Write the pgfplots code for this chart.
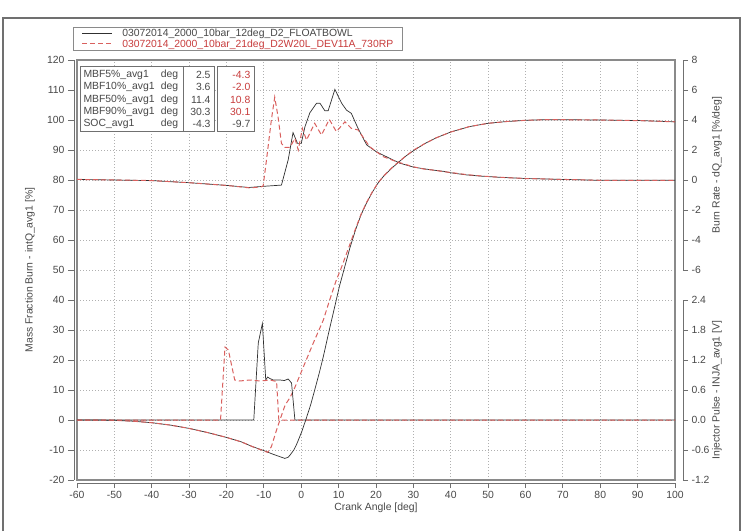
\documentclass[border=0pt]{standalone}
\usepackage{fontspec}
\setmainfont{Liberation Sans}
\usepackage{pgfplots}
\usepackage{pgfplotstable}
\pgfplotsset{compat=1.18}
\definecolor{tickgray}{HTML}{484848}
\definecolor{framegray}{HTML}{8A8A8A}
\definecolor{spinegray}{HTML}{707070}
\definecolor{gridgray}{HTML}{B0B0B0}
\definecolor{curvered}{HTML}{D9605E}
\definecolor{textred}{HTML}{C83C3C}
\definecolor{curveblack}{HTML}{303030}

% Mass fraction burn [%]
\pgfplotstableread{
x y
-60 0
-55 0
-50 -0.1
-45 -0.4
-40 -0.9
-35 -1.7
-30 -2.8
-25 -4.2
-20 -5.8
-16 -7.3
-13 -8.9
-10 -10.2
-8 -11.2
-6 -12.1
-4.4 -12.8
-3.5 -12.4
-3 -11.7
-2 -10.0
-1.3 -8.3
0.1 -4.0
1.2 0
2.5 5
3.6 10
4.8 15.6
5.9 21.1
7.5 30
9 38
10.2 44.5
11.4 50
13 57.3
14.5 63.3
16 68.4
17.5 72.4
19 75.9
20.5 78.9
22 81.2
24 83.7
26 85.9
28 88
30.3 90
33 92.1
36 94
40 96
45 97.8
50 98.9
55 99.5
60 99.9
65 100.1
70 100.1
80 100.0
90.5 99.8
100 99.4
}\mbfblack

\pgfplotstableread{
x y
-60 0
-55 0
-50 -0.1
-45 -0.4
-40 -0.9
-35 -1.7
-30 -2.8
-25 -4.2
-20 -5.8
-16 -7.3
-13 -8.9
-10 -10.3
-9 -10.8
-8 -8.9
-6.6 -3.3
-4.8 3.3
-4.3 5
-3 7.5
-2 10
0.5 17.5
3.2 25.6
5.9 33.3
7.6 40
9.4 46.7
10.8 51
13 58.5
14.5 63.7
16 68.6
17.5 72.6
19 76
20.5 79
22 81.3
24 83.8
26 86
28 88
30.1 90
33 92.1
36 94
40 96
45 97.8
50 98.9
55 99.5
60 99.9
65 100.1
70 100.1
80 100.0
90.5 99.8
100 99.4
}\mbfred

% Burn rate [%/deg]
\pgfplotstableread{
x y
-60 0.04
-50 0.00
-40 -0.04
-30 -0.18
-20 -0.36
-14 -0.50
-10 -0.42
-5.3 -0.34
-3.5 1.34
-2.2 3.16
-1.0 2.44
0.0 2.44
1.0 3.56
2.3 4.48
4.1 5.12
5.0 5.12
6.3 4.62
7.2 4.62
9.0 6.04
10.8 5.12
12.1 4.66
13.4 4.44
15.2 3.44
17.5 2.34
20.1 1.88
23.7 1.44
26.4 1.12
30 0.86
33 0.74
35.3 0.66
38 0.58
40 0.48
44.2 0.34
48 0.26
53.1 0.18
60 0.10
66.5 0.06
80 -0.02
100 -0.02
}\brblack

\pgfplotstableread{
x y
-60 0.04
-50 0.00
-40 -0.04
-30 -0.18
-20 -0.36
-14 -0.52
-11 -0.48
-10.2 -0.40
-9.3 1.34
-8.0 4.0
-7.1 5.52
-6.2 4.2
-5.3 2.44
-4.4 2.18
-3.0 2.18
-1.7 2.78
-0.8 2.0
0.3 3.44
1.4 2.66
3.6 3.78
5.4 3.0
7.5 4.04
9.4 3.22
11.7 3.88
13.4 3.44
15.2 3.34
18.3 2.22
21.9 1.56
25.5 1.22
30 0.88
33 0.72
35.3 0.66
38 0.56
40 0.50
44.2 0.36
48 0.27
53.1 0.18
60 0.10
66.5 0.06
80 -0.02
100 -0.02
}\brred

% Injector pulse [V]
\pgfplotstableread{
x y
-60 0
-12.7 0
-11.5 1.54
-10.4 1.93
-9.5 0.80
-9.0 0.86
-8.4 0.83
-7.5 0.80
-5.7 0.80
-4.5 0.79
-3.5 0.82
-2.6 0.74
-1.7 0
100 0
}\injblack

\pgfplotstableread{
x y
-60 0
-21.6 0
-20.4 1.46
-19.5 1.40
-17.8 0.80
-16.5 0.78
-13.7 0.80
-11 0.78
-8.4 0.80
-6.6 0.77
-6.0 0
100 0
}\injred

\begin{document}
\begin{tikzpicture}[x=1pt,y=1pt,font=\fontsize{10.4}{12}\selectfont]
\useasboundingbox (0,0) rectangle (743,531);

% outer figure frame
\draw[spinegray, line width=1.3pt] (3,0) -- (3,513) -- (740,513) -- (740,0);

% main axis: frame, grid, mass fraction burn
\begin{axis}[
  at={(77pt,51pt)}, anchor=south west,
  width=598pt, height=420pt, scale only axis,
  xmin=-60, xmax=100, ymin=-20, ymax=120,
  xtick={-60,-50,...,100}, ytick={-20,-10,...,120},
  xticklabels={}, yticklabels={},
  major tick length=0pt,
  grid=major,
  major grid style={gridgray, line width=0.8pt, dash pattern=on 1pt off 2pt},
  axis line style={framegray, line width=1.2pt},
  legend style={
    at={(rel axis cs:-0.0062,1.0214)}, anchor=south west,
    draw=framegray, line width=0.8pt, fill=white,
    inner xsep=8pt, inner ysep=1.5pt, row sep=0pt,
    nodes={inner sep=0.6pt, font=\fontsize{10.4}{12}\selectfont},
    /tikz/every odd column/.append style={column sep=9pt},
  },
  legend cell align=left,
  legend image code/.code={\draw[#1] (0pt,0pt) -- (30pt,0pt);},
]
\addplot[curveblack, line width=0.7pt] table {\mbfblack};
\addlegendentry{\textcolor{tickgray}{03072014\_2000\_10bar\_12deg\_D2\_FLOATBOWL}}
\addplot[curvered, line width=1pt, dash pattern=on 5pt off 3pt] table {\mbfred};
\addlegendentry{\textcolor{textred}{03072014\_2000\_10bar\_21deg\_D2W20L\_DEV11A\_730RP}}
\end{axis}

% burn rate data (same frame, mapped to right scale)
\begin{axis}[
  at={(77pt,51pt)}, anchor=south west,
  width=598pt, height=420pt, scale only axis,
  xmin=-60, xmax=100, ymin=-20, ymax=8, hide axis,
]
\addplot[curveblack, line width=0.7pt] table {\brblack};
\addplot[curvered, line width=1pt, dash pattern=on 5pt off 3pt] table {\brred};
\end{axis}

% injector data
\begin{axis}[
  at={(77pt,51pt)}, anchor=south west,
  width=598pt, height=420pt, scale only axis,
  xmin=-60, xmax=100, ymin=-1.2, ymax=7.2, hide axis,
]
\addplot[curveblack, line width=0.7pt] table {\injblack};
\addplot[curvered, line width=1pt, dash pattern=on 5pt off 3pt] table {\injred};
\end{axis}

% left spine
\begin{axis}[
  at={(74pt,51pt)}, anchor=south west,
  width=598pt, height=420pt, scale only axis,
  xmin=0, xmax=1, ymin=-20, ymax=120,
  hide x axis, axis y line=left,
  axis line style={spinegray, line width=1pt, -},
  ytick={-20,-10,0,10,20,30,40,50,60,70,80,90,100,110,120},
  yticklabels={-20,-10,0,10,20,30,40,50,60,70,80,90,100,110,120},
  tick align=outside, major tick length=6pt,
  tick style={spinegray, line width=0.8pt},
  tick label style={text=tickgray},
  ylabel={Mass Fraction Burn - intQ\_avg1 [\%]},
  every axis y label/.style={at={(rel axis cs:-0.0736,0.5)}, rotate=90, anchor=center, text=tickgray},
]
\end{axis}

% bottom spine
\begin{axis}[
  at={(77pt,48pt)}, anchor=south west,
  width=598pt, height=420pt, scale only axis,
  xmin=-60, xmax=100, ymin=0, ymax=1,
  hide y axis, axis x line=bottom,
  axis line style={spinegray, line width=1pt, -},
  xtick={-60,-50,-40,-30,-20,-10,0,10,20,30,40,50,60,70,80,90,100},
  xticklabels={-60,-50,-40,-30,-20,-10,0,10,20,30,40,50,60,70,80,90,100},
  tick align=outside, major tick length=5pt,
  tick style={spinegray, line width=0.8pt},
  tick label style={text=tickgray},
  xlabel={Crank Angle [deg]},
  every axis x label/.style={at={(rel axis cs:0.5,-0.0583)}, anchor=center, text=tickgray},
]
\end{axis}

% right spine: burn rate
\begin{axis}[
  at={(673pt,261pt)}, anchor=south west,
  width=10pt, height=210pt, scale only axis,
  xmin=0, xmax=1, ymin=-6, ymax=8,
  hide x axis, axis y line=right,
  axis line style={spinegray, line width=1pt, -},
  ytick={-6,-4,-2,0,2,4,6,8},
  yticklabels={-6,-4,-2,0,2,4,6,8},
  tick align=outside, major tick length=5pt,
  tick style={spinegray, line width=0.8pt},
  tick label style={text=tickgray},
  ylabel={Burn Rate - dQ\_avg1 [\%/deg]},
  every axis y label/.style={at={(rel axis cs:4.4,0.5)}, rotate=90, anchor=center, text=tickgray},
]
\end{axis}

% right spine: injector pulse
\begin{axis}[
  at={(673pt,51pt)}, anchor=south west,
  width=10pt, height=180pt, scale only axis,
  xmin=0, xmax=1, ymin=-1.2, ymax=2.4,
  hide x axis, axis y line=right,
  axis line style={spinegray, line width=1pt, -},
  ytick={-1.2,-0.6,0,0.6,1.2,1.8,2.4},
  yticklabels={-1.2,-0.6,0.0,0.6,1.2,1.8,2.4},
  tick align=outside, major tick length=5pt,
  tick style={spinegray, line width=0.8pt},
  tick label style={text=tickgray},
  ylabel={Injector Pulse - INJA\_avg1 [V]},
  every axis y label/.style={at={(rel axis cs:4.4,0.5)}, rotate=90, anchor=center, text=tickgray},
]
\end{axis}

% results table
\filldraw[fill=white, draw=spinegray, line width=0.9pt] (80,399.3) rectangle (214,464.3);
\draw[spinegray, line width=0.9pt] (183.3,399.3) -- (183.3,464.3);
\filldraw[fill=white, draw=spinegray, line width=0.9pt] (217.3,399.3) rectangle (254,464.3);
\foreach \yy/\nm/\va/\vb/\cb in {
  456/MBF5\%\_avg1/2.5/-4.3/textred,
  443.75/MBF10\%\_avg1/3.6/-2.0/textred,
  431.5/MBF50\%\_avg1/11.4/10.8/textred,
  419.25/MBF90\%\_avg1/30.3/30.1/textred,
  407/SOC\_avg1/-4.3/-9.7/tickgray}{
  \node[anchor=west, inner sep=0pt, text=tickgray] at (83.3,\yy) {\nm};
  \node[anchor=west, inner sep=0pt, text=tickgray] at (160.7,\yy) {deg};
  \node[anchor=east, inner sep=0pt, text=tickgray] at (210.7,\yy) {\va};
  \node[anchor=east, inner sep=0pt, text=\cb] at (250.5,\yy) {\vb};
}
\end{tikzpicture}
\end{document}
